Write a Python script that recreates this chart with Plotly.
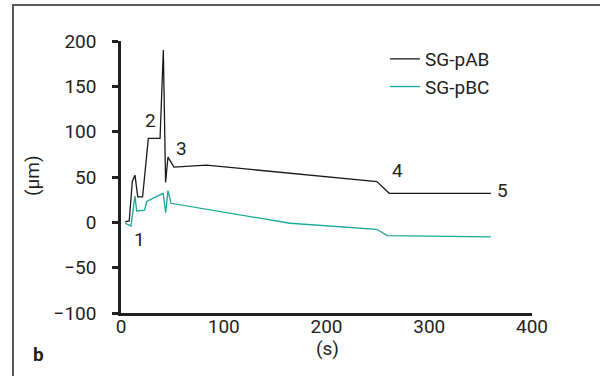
import plotly.graph_objects as go

# data
t_ab = [4, 8, 11, 13.6, 16.3, 21, 26.6, 38, 41.2, 43.4, 45.7, 51.6, 83, 249, 261, 360]
y_ab = [0.5, 1.5, 45, 52, 28, 28, 92.5, 92.5, 190, 44, 72, 61, 63, 45, 32, 32]

t_bc = [4, 9.7, 13.6, 15.3, 23, 25, 41, 43.5, 45.7, 48.7, 164.5, 249, 259, 360]
y_bc = [-1, -4, 29, 12.5, 13.5, 23, 32, 10.6, 35, 21, -1, -7.7, -14.7, -16]

marker_labels = ["1", "2", "3", "4", "5"]
marker_x = [17.8, 28.9, 59, 269.3, 371.5]
marker_y = [-19, 112.7, 81.6, 57.7, 34.7]

y_ticks = [-100, -50, 0, 50, 100, 150, 200]
x_ticks = [0, 100, 200, 300, 400]

FONT = "Roboto"
TXT = "#231f20"

L, T, PW, PH = 121, 41, 411, 272


def px(xp):
    return (xp - L) / PW


def py(yp):
    return (T + PH - yp) / PH


fig = go.Figure()
fig.add_trace(go.Scatter(x=t_ab, y=y_ab, mode="lines", name="SG-pAB",
                         line=dict(color="#1a1a1a", width=1.3)))
fig.add_trace(go.Scatter(x=t_bc, y=y_bc, mode="lines", name="SG-pBC",
                         line=dict(color="#17a898", width=1.3)))

for lab, x, y in zip(marker_labels, marker_x, marker_y):
    fig.add_annotation(x=x, y=y, text=lab, showarrow=False,
                       xanchor="center", yanchor="middle",
                       font=dict(family=FONT, size=19, color=TXT))

# axis titles and panel letter
fig.add_annotation(xref="paper", yref="paper", x=px(32), y=py(176),
                   text="(μm)", textangle=-90, showarrow=False,
                   xanchor="center", yanchor="middle",
                   font=dict(family=FONT, size=19, color=TXT))
fig.add_annotation(xref="paper", yref="paper", x=px(327), y=py(348),
                   text="(s)", showarrow=False,
                   xanchor="center", yanchor="middle",
                   font=dict(family=FONT, size=19, color=TXT))
fig.add_annotation(xref="paper", yref="paper", x=px(38), y=py(354),
                   text="<b>b</b>", showarrow=False,
                   xanchor="center", yanchor="middle",
                   font=dict(family=FONT, size=19, color=TXT))

# outer frame (left and top edges visible)
fig.add_shape(type="line", xref="paper", yref="paper",
              x0=px(13), x1=px(13), y0=py(5), y1=py(400),
              line=dict(color="#5a5a5a", width=2))
fig.add_shape(type="line", xref="paper", yref="paper",
              x0=px(12), x1=px(620), y0=py(5), y1=py(5),
              line=dict(color="#5a5a5a", width=2))

fig.update_layout(
    width=600, height=376,
    margin=dict(l=L, r=600 - L - PW, t=T, b=376 - T - PH, autoexpand=False),
    paper_bgcolor="white", plot_bgcolor="white",
    font=dict(family=FONT, size=19, color=TXT),
    showlegend=True,
    legend=dict(x=px(385), y=py(40), xanchor="left", yanchor="top",
                bgcolor="rgba(0,0,0,0)", font=dict(family=FONT, size=19, color=TXT),
                tracegroupgap=0, itemwidth=30),
    xaxis=dict(range=[0, 400], tickvals=x_ticks, ticktext=[str(v) for v in x_ticks],
               showgrid=False, zeroline=False, showline=True, linecolor=TXT,
               linewidth=2.5, ticks="", ticklabelstandoff=-6,
               tickfont=dict(family=FONT, size=19, color=TXT)),
    yaxis=dict(range=[-100, 200], tickvals=y_ticks,
               ticktext=[str(v).replace("-", "\u2212") for v in y_ticks],
               showgrid=False, zeroline=False, showline=True, linecolor=TXT,
               linewidth=2.5, ticks="outside", ticklen=6, tickwidth=2.5, tickcolor=TXT,
               ticklabelstandoff=12, tickfont=dict(family=FONT, size=19, color=TXT)),
)

fig.write_html("out.html", config={"displayModeBar": False},
               post_script="document.body.style.margin='0';document.body.style.overflow='hidden';")
